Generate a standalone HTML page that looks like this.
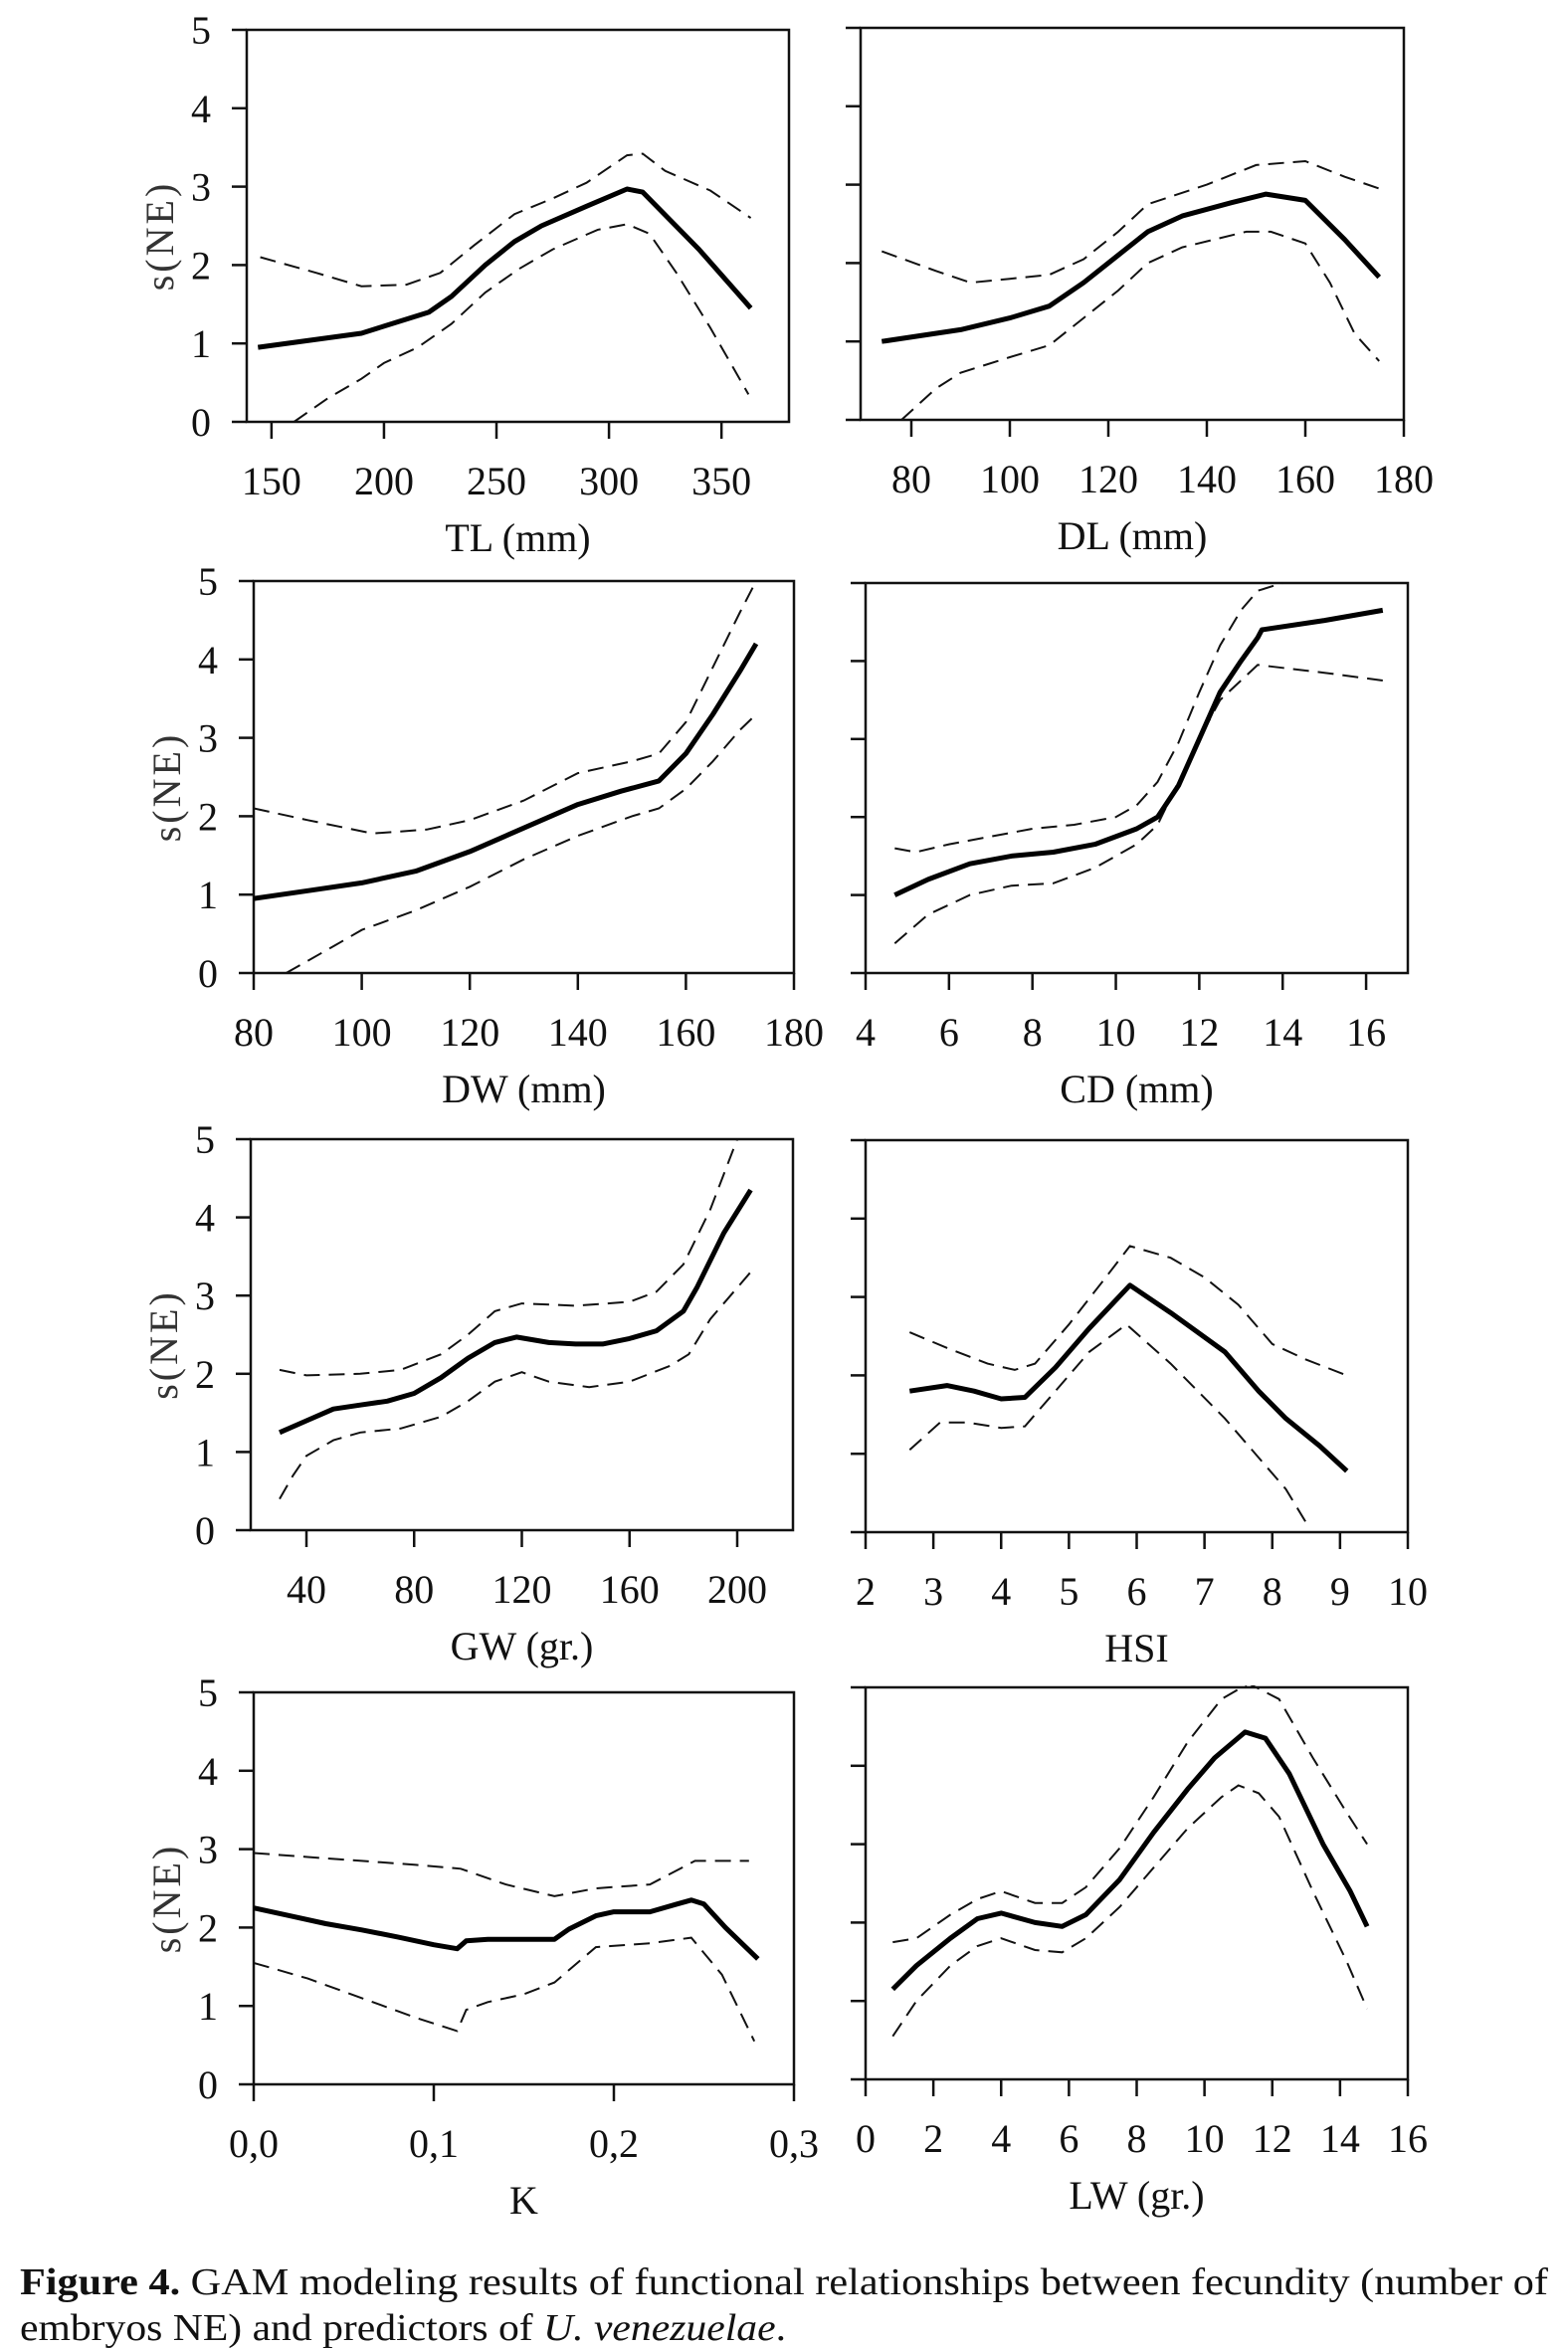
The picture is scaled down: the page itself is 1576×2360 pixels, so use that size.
<!DOCTYPE html>
<html><head><meta charset="utf-8">
<style>
html,body{margin:0;padding:0;background:#fff;}
svg{display:block;}
text{font-family:"Liberation Serif",serif;fill:#111;}
</style></head>
<body>
<svg id="fig" width="1576" height="2360" viewBox="0 0 1576 2360" xmlns="http://www.w3.org/2000/svg">
<text x="20" y="2306" font-size="38" textLength="1536" lengthAdjust="spacingAndGlyphs"><tspan font-weight="bold">Figure 4.</tspan> GAM modeling results of functional relationships between fecundity (number of</text>
<text x="20" y="2352" font-size="38" textLength="770" lengthAdjust="spacingAndGlyphs">embryos NE) and predictors of <tspan font-style="italic">U. venezuelae</tspan>.</text>
</svg>
<script>
// ---- data (x values, fitted s(NE), upper and lower CI) ----
const tlX = [144,190,200,220,230,245,258,270,290,308,315,340,363];
const tlFit = [0.95,1.13,1.22,1.4,1.6,2.0,2.3,2.5,2.75,2.97,2.93,2.2,1.45];
const tlUpX = [145,170,190,210,225,240,258,275,290,308,315,325,345,363];
const tlUp = [2.1,1.9,1.73,1.75,1.9,2.25,2.65,2.85,3.05,3.4,3.42,3.2,2.95,2.6];
const tlLoX = [160,175,190,200,215,230,245,260,275,295,308,318,330,345,355,362];
const tlLo = [0,0.3,0.55,0.75,0.95,1.25,1.65,1.95,2.2,2.45,2.52,2.4,1.9,1.2,0.7,0.35];

const dlX = [74,90,100,108,115,122,128,135,145,152,160,168,175];
const dlFit = [1.0,1.15,1.3,1.45,1.75,2.1,2.4,2.6,2.77,2.88,2.8,2.3,1.82];
const dlUpX = [74,85,92,100,108,115,122,128,140,150,160,168,175];
const dlUp = [2.15,1.9,1.75,1.8,1.85,2.05,2.4,2.75,3.0,3.25,3.3,3.1,2.95];
const dlLoX = [78,85,90,100,108,115,122,128,135,148,153,160,165,170,175];
const dlLo = [0,0.4,0.6,0.8,0.95,1.3,1.65,2.0,2.2,2.4,2.4,2.25,1.75,1.1,0.75];

const dwX = [80,90,100,110,120,130,140,148,155,160,165,170,173];
const dwFit = [0.95,1.05,1.15,1.3,1.55,1.85,2.15,2.32,2.45,2.8,3.3,3.85,4.2];
const dwUpX = [80,90,102,112,120,130,140,150,155,160,165,170,173];
const dwUp = [2.1,1.95,1.78,1.83,1.95,2.2,2.55,2.7,2.8,3.2,3.9,4.6,5.0];
const dwLoX = [86,95,100,110,120,130,140,150,155,160,165,170,173];
const dwLo = [0,0.35,0.55,0.8,1.1,1.45,1.75,2.0,2.1,2.35,2.7,3.1,3.3];

const cdX = [4.7,5.5,6.5,7.5,8.5,9.5,10.5,11,11.5,12,12.5,13,13.4,13.5,15,16.4];
const cdFit = [1.0,1.2,1.4,1.5,1.55,1.65,1.85,2.0,2.4,3.0,3.6,4.0,4.3,4.4,4.52,4.65];
const cdUpX = [4.7,5.2,6,7,8,9,10,10.5,11,11.5,12,12.5,13,13.4,14];
const cdUp = [1.6,1.55,1.65,1.75,1.85,1.9,2.0,2.15,2.45,2.95,3.6,4.2,4.65,4.9,5.0];
const cdLoX = [4.7,5.5,6.5,7.5,8.5,9.5,10.5,11,11.5,12,12.5,13.4,15,16.4];
const cdLo = [0.38,0.75,1.0,1.12,1.15,1.35,1.65,1.9,2.45,3.0,3.5,3.95,3.85,3.75];

const gwX = [30,40,50,60,70,80,90,100,110,118,130,140,150,160,170,180,185,195,205];
const gwFit = [1.25,1.4,1.55,1.6,1.65,1.75,1.95,2.2,2.4,2.47,2.4,2.38,2.38,2.45,2.55,2.8,3.1,3.8,4.35];
const gwUpX = [30,40,60,75,90,100,110,120,140,160,170,180,190,200];
const gwUp = [2.05,1.98,2.0,2.05,2.25,2.5,2.8,2.9,2.87,2.92,3.05,3.4,4.1,5.0];
const gwLoX = [30,35,40,50,60,75,90,100,110,120,130,145,160,175,182,190,205];
const gwLo = [0.4,0.7,0.95,1.15,1.25,1.3,1.45,1.65,1.9,2.02,1.9,1.83,1.9,2.1,2.25,2.7,3.3];

const hsiX = [2.65,3.2,3.6,4,4.35,4.8,5.3,5.9,6.5,7.3,7.8,8.2,8.7,9.1];
const hsiFit = [1.8,1.87,1.8,1.7,1.72,2.1,2.6,3.15,2.8,2.3,1.8,1.45,1.1,0.78];
const hsiUpX = [2.65,3.2,3.8,4.2,4.5,5,5.5,5.9,6.5,7,7.5,8,8.5,9.1];
const hsiUp = [2.55,2.35,2.15,2.07,2.15,2.65,3.2,3.65,3.5,3.25,2.9,2.4,2.2,2.0];
const hsiLoX = [2.65,3.1,3.5,4,4.35,4.8,5.3,5.85,6.5,7.3,7.8,8.2,8.55];
const hsiLo = [1.05,1.4,1.4,1.33,1.35,1.8,2.3,2.65,2.15,1.45,0.95,0.55,0.05];

const kX = [0,0.02,0.04,0.06,0.08,0.1,0.113,0.118,0.13,0.167,0.175,0.19,0.2,0.22,0.235,0.243,0.25,0.262,0.28];
const kFit = [2.25,2.15,2.05,1.97,1.88,1.78,1.73,1.83,1.85,1.85,1.98,2.15,2.2,2.2,2.3,2.35,2.3,2.0,1.6];
const kUpX = [0,0.03,0.06,0.09,0.115,0.14,0.167,0.19,0.22,0.245,0.275];
const kUp = [2.95,2.9,2.85,2.8,2.75,2.55,2.4,2.5,2.55,2.85,2.85];
const kLoX = [0,0.03,0.06,0.09,0.113,0.118,0.13,0.15,0.167,0.19,0.22,0.243,0.26,0.278];
const kLo = [1.55,1.35,1.1,0.85,0.68,0.95,1.05,1.15,1.3,1.75,1.8,1.87,1.4,0.55];

const lwX = [0.8,1.5,2.5,3.3,4,5,5.8,6.5,7.5,8.5,9.5,10.3,11.2,11.8,12.5,13.5,14.3,14.8];
const lwFit = [1.15,1.45,1.8,2.05,2.12,2.0,1.95,2.1,2.55,3.15,3.7,4.1,4.43,4.35,3.9,3.0,2.4,1.95];
const lwUpX = [0.8,1.5,2.5,3.3,4,5,5.8,6.5,7.5,8.5,9.5,10.5,11.3,12.2,13.2,14.2,14.8];
const lwUp = [1.75,1.8,2.1,2.3,2.4,2.25,2.25,2.45,2.95,3.6,4.3,4.85,5.05,4.85,4.1,3.4,3.0];
const lwLoX = [0.8,1.5,2.5,3.3,4,5,5.8,6.5,7.5,8.5,9.5,10.5,11,11.6,12.2,13.2,14.2,14.8];
const lwLo = [0.55,1.0,1.45,1.7,1.8,1.65,1.62,1.8,2.2,2.7,3.2,3.6,3.75,3.65,3.35,2.4,1.5,0.9];

const yTicks = [0,1,2,3,4,5];
const tlTicks = [150,200,250,300,350];
const dlTicks = [80,100,120,140,160,180];
const dwTicks = [80,100,120,140,160,180];
const cdTicks = [4,6,8,10,12,14,16];
const gwTicks = [40,80,120,160,200];
const hsiTicks = [2,3,4,5,6,7,8,9,10];
const kTicks = [0,0.1,0.2,0.3];
const kTickLabels = ["0,0","0,1","0,2","0,3"];
const lwTicks = [0,2,4,6,8,10,12,14,16];

const NS = "http://www.w3.org/2000/svg";
const svg = document.getElementById('fig');
function mk(tag, attrs, parent){
  const e = document.createElementNS(NS, tag);
  for (const k in attrs) e.setAttribute(k, attrs[k]);
  (parent||svg).appendChild(e);
  return e;
}

const panels = [
 {id:'tl', box:[248,30,793,424], xr:[139,380], ticks:tlTicks, labels:null, title:'TL (mm)', left:true,
  fit:[tlX,tlFit], up:[tlUpX,tlUp], lo:[tlLoX,tlLo]},
 {id:'dl', box:[865,28,1411,422], xr:[69.7,180], ticks:dlTicks, labels:null, title:'DL (mm)', left:false,
  fit:[dlX,dlFit], up:[dlUpX,dlUp], lo:[dlLoX,dlLo]},
 {id:'dw', box:[255,584,798,978], xr:[80,180], ticks:dwTicks, labels:null, title:'DW (mm)', left:true,
  fit:[dwX,dwFit], up:[dwUpX,dwUp], lo:[dwLoX,dwLo]},
 {id:'cd', box:[870,586,1415,978], xr:[4,17], ticks:cdTicks, labels:null, title:'CD (mm)', left:false,
  fit:[cdX,cdFit], up:[cdUpX,cdUp], lo:[cdLoX,cdLo]},
 {id:'gw', box:[252,1145,797,1538], xr:[19.3,220.7], ticks:gwTicks, labels:null, title:'GW (gr.)', left:true,
  fit:[gwX,gwFit], up:[gwUpX,gwUp], lo:[gwLoX,gwLo]},
 {id:'hsi', box:[870,1146,1415,1540], xr:[2,10], ticks:hsiTicks, labels:null, title:'HSI', left:false,
  fit:[hsiX,hsiFit], up:[hsiUpX,hsiUp], lo:[hsiLoX,hsiLo]},
 {id:'k', box:[255,1701,798,2095], xr:[0,0.3], ticks:kTicks, labels:kTickLabels, title:'K', left:true,
  fit:[kX,kFit], up:[kUpX,kUp], lo:[kLoX,kLo]},
 {id:'lw', box:[870,1696,1415,2090], xr:[0,16], ticks:lwTicks, labels:null, title:'LW (gr.)', left:false,
  fit:[lwX,lwFit], up:[lwUpX,lwUp], lo:[lwLoX,lwLo]}
];

panels.forEach(p => {
  const [x0,y0,x1,y1] = p.box;
  const g = mk('g', {});
  
  
  const sx = v => x0 + (v - p.xr[0]) / (p.xr[1] - p.xr[0]) * (x1 - x0);
  const sy = v => y1 - v / 5 * (y1 - y0);
  const clip = mk('clipPath', {id:'clip-' + p.id}, g);
  mk('rect', {x:x0, y:y0-2, width:x1-x0, height:y1-y0+4}, clip);

  const frame = mk('rect', {x:x0, y:y0, width:x1-x0, height:y1-y0, fill:'none', stroke:'#111', 'stroke-width':2.5}, g);
  
  

  yTicks.forEach(t => {
    const tk = mk('line', {x1:x0-15, x2:x0, y1:sy(t), y2:sy(t), stroke:'#111', 'stroke-width':2.5}, g);
    
    
    if (p.left) {
      const tl = mk('text', {x:x0-36, y:sy(t)+14, 'font-size':40, 'text-anchor':'end'}, g);
      tl.textContent = t;
      
      
    }
  });

  p.ticks.forEach((t,i) => {
    const tk = mk('line', {x1:sx(t), x2:sx(t), y1:y1, y2:y1+17, stroke:'#111', 'stroke-width':2.5}, g);
    
    
    const tl = mk('text', {x:sx(t), y:y1+73, 'font-size':40, 'text-anchor':'middle'}, g);
    tl.textContent = p.labels ? p.labels[i] : t;
    
    
  });

  const title = mk('text', {x:(x0+x1)/2, y:y1+130, 'font-size':40, 'text-anchor':'middle'}, g);
  title.textContent = p.title;
  
  

  if (p.left) {
    const cy = (y0+y1)/2 + 10;
    const tx = x0 - 74;
    const yt = mk('text', {x:tx, y:cy, 'font-size':40, 'text-anchor':'middle', 'letter-spacing':'3', transform:'rotate(-90 ' + tx + ' ' + cy + ')', style:'fill:#333'}, g);
    yt.textContent = 's(NE)';
    
    
  }

  const path = (xs, ys) => xs.map((v,i) => (i ? 'L' : 'M') + sx(v).toFixed(1) + ' ' + sy(ys[i]).toFixed(1)).join(' ');
  const up = mk('path', {d:path(p.up[0], p.up[1]), fill:'none', stroke:'#111', 'stroke-width':2, 'stroke-dasharray':'16 9', 'clip-path':'url(#clip-' + p.id + ')'}, g);
  
  
  const lo = mk('path', {d:path(p.lo[0], p.lo[1]), fill:'none', stroke:'#111', 'stroke-width':2, 'stroke-dasharray':'16 9', 'clip-path':'url(#clip-' + p.id + ')'}, g);
  
  
  const fit = mk('path', {d:path(p.fit[0], p.fit[1]), fill:'none', stroke:'#000', 'stroke-width':5, 'stroke-linejoin':'round', 'clip-path':'url(#clip-' + p.id + ')'}, g);
  
  
});
</script>
</body></html>
